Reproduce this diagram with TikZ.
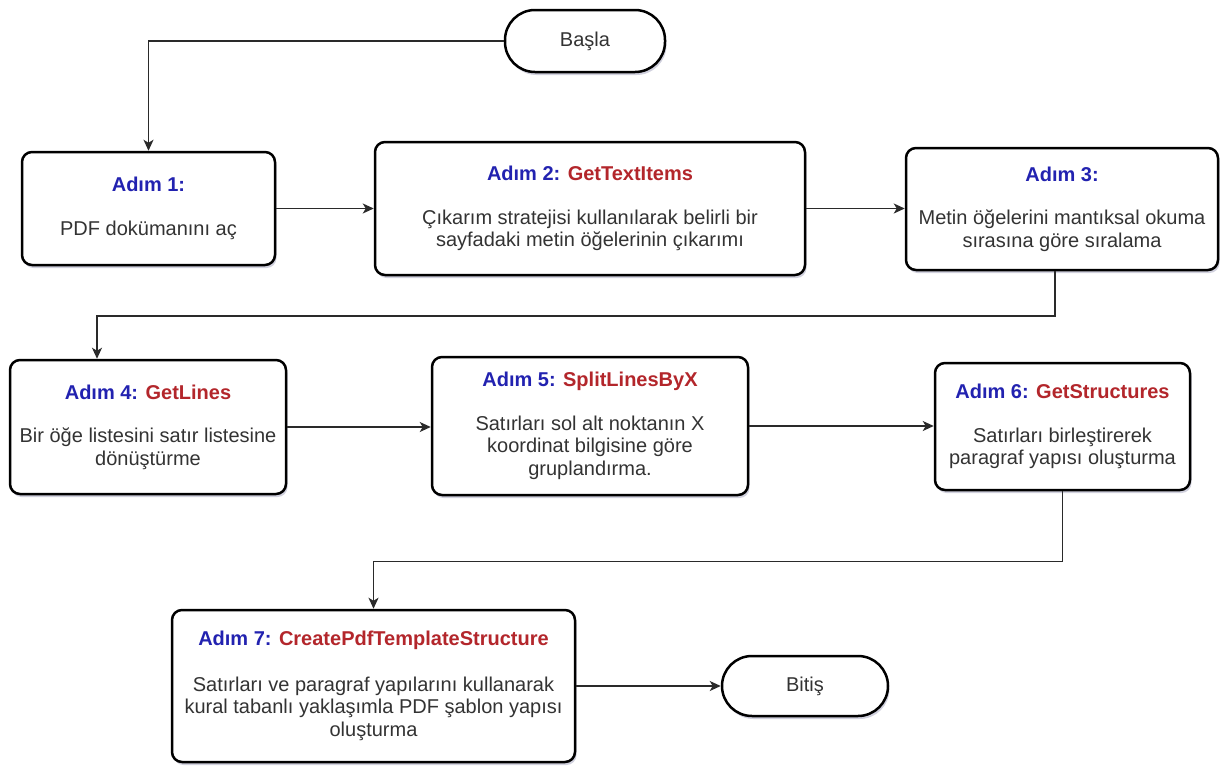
\documentclass[tikz,border=0pt]{standalone}
\usepackage{fontspec}
\setmainfont{Liberation Sans}
\usetikzlibrary{arrows.meta,shadows}
\definecolor{ttl}{HTML}{2222B0}
\definecolor{fn}{HTML}{B3262B}
\definecolor{txt}{HTML}{333333}
\definecolor{ln}{HTML}{2A2A2A}
\tikzset{
  stepbox/.style={draw=black, line width=2.5pt, rounded corners=10pt, fill=white,
    inner sep=0pt, align=center, text=txt,
    font=\fontsize{20}{22.5}\selectfont,
    drop shadow={shadow xshift=1.5pt, shadow yshift=-3pt, fill=blue!30!black, opacity=0.18}},
  termbox/.style={draw=black, line width=2.5pt, rounded corners=30pt, fill=white,
    inner sep=0pt, align=center, text=txt,
    font=\fontsize{20}{22.5}\selectfont,
    drop shadow={shadow xshift=1.5pt, shadow yshift=-3pt, fill=blue!30!black, opacity=0.18}},
  conn/.style={draw=ln, line width=1.5pt, -{Stealth[length=11pt,width=10pt,inset=3pt]}}
}
\newcommand{\ttlA}[1]{{\bfseries\color{ttl}#1}}
\newcommand{\fnA}[1]{{\bfseries\color{fn}#1}}
\begin{document}
\begin{tikzpicture}[x=1pt,y=-1pt]
\useasboundingbox[fill=white] (0,0) rectangle (1221,766);

\node[termbox, minimum width=160pt, minimum height=62pt] (start) at (585,41) {Başla};

\node[stepbox, minimum width=253pt, minimum height=113pt] (b1) at (148.5,208.5)
  {\ttlA{Adım 1:}\\[21pt] PDF dokümanını aç};
\node[stepbox, minimum width=430pt, minimum height=133pt] (b2) at (590,208.5)
  {\ttlA{Adım 2:} \fnA{GetTextItems}\\[21pt] Çıkarım stratejisi kullanılarak belirli bir\\ sayfadaki metin öğelerinin çıkarımı};
\node[stepbox, minimum width=312pt, minimum height=122pt] (b3) at (1062,209)
  {\ttlA{Adım 3:}\\[21pt] Metin öğelerini mantıksal okuma\\ sırasına göre sıralama};

\node[stepbox, minimum width=276pt, minimum height=134pt] (b4) at (148,427)
  {\ttlA{Adım 4:} \fnA{GetLines}\\[21pt] Bir öğe listesini satır listesine\\ dönüştürme};
\node[stepbox, minimum width=316pt, minimum height=138pt] (b5) at (590,426)
  {\ttlA{Adım 5:} \fnA{SplitLinesByX}\\[21pt] Satırları sol alt noktanın X\\ koordinat bilgisine göre\\ gruplandırma.};
\node[stepbox, minimum width=255pt, minimum height=127pt] (b6) at (1062.5,426.5)
  {\ttlA{Adım 6:} \fnA{GetStructures}\\[21pt] Satırları birleştirerek\\ paragraf yapısı oluşturma};

\node[stepbox, minimum width=403pt, minimum height=152pt] (b7) at (373.5,686)
  {\ttlA{Adım 7:} \fnA{CreatePdfTemplateStructure}\\[23pt] Satırları ve paragraf yapılarını kullanarak\\ kural tabanlı yaklaşımla PDF şablon yapısı\\ oluşturma};
\node[termbox, minimum width=166pt, minimum height=60pt] (end) at (805,686) {Bitiş};

\coordinate (k1) at (97,316);
\coordinate (k2) at (1055,270);

\draw[conn] (start.west) -| (b1.north);
\draw[conn] (b1.east) -- (b2.west |- b1.east);
\draw[conn] (b2.east) -- (b3.west |- b2.east);
\draw[conn] (b3.south -| k2) |- (k1) -- (b4.north -| k1);
\draw[conn] (b4.east) -- (b5.west |- b4.east);
\draw[conn] (b5.east) -- (b6.west |- b5.east);
\draw[conn] (b6.south) -- ++(0,70) -| (b7.north);
\draw[conn] (b7.east) -- (end.west);
\end{tikzpicture}
\end{document}
